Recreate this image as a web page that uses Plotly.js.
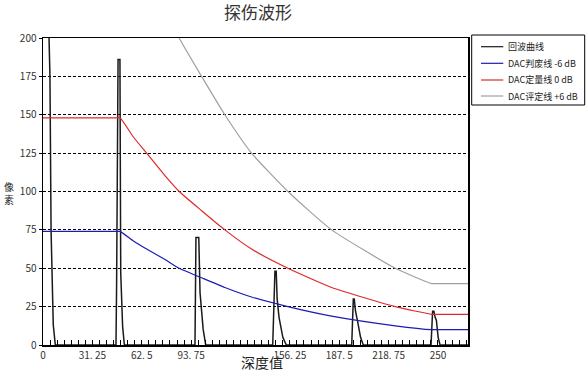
<!DOCTYPE html>
<html><head><meta charset="utf-8">
<script src="https://cdn.plot.ly/plotly-3.0.1.min.js"></script>
<style>html,body{margin:0;padding:0;background:#fff}#c{width:588px;height:373px}</style>
</head><body><div id="c"></div>
<script>
// Echo waveform (回波曲线)
const echoX = [0, 3.8, 4.4, 5.1, 6.5, 7.8,
  46.2, 46.6, 47.5, 48.7, 49.2, 50.4, 51.5,
  96.2, 96.8, 97.6, 98.6, 99.4, 101.4, 103.0,
  145.4, 146.8, 147.6, 148.2, 149.4, 151.8, 154.0,
  195.4, 196.4, 197.0, 197.8, 199.0, 201.0, 202.7,
  245.6, 246.6, 247.4, 248.2, 249.0, 250.1, 251.3, 269];
const echoY = [260, 200.8, 175, 75, 13, 0,
  0, 40, 186, 186, 47, 12, 0,
  0, 70, 70, 70, 34, 10, 0,
  0, 48, 48, 30, 18, 5, 0,
  0, 30, 30, 22, 16, 5, 0,
  0, 22, 22, 18, 16, 5, 0, 0];

// DAC curves
const dacX = [0, 46.0, 48.7, 57.2, 65.6, 78.3, 86.2, 100.4, 115.1, 132.0, 155.0, 182.7, 223.0, 246.0, 249.0, 269];
const dacRed = [148, 148, 148, 135.5, 125, 109, 100, 87.5, 75, 62.5, 50, 37.5, 25, 20, 20, 20];
const dacBlue = [74, 74, 74, 67.8, 62.5, 55, 50, 43.8, 37.5, 31.3, 25, 18.8, 12.5, 10, 10, 10];
const dacGray = [296, 296, 296, 271, 250, 218, 200, 175, 150, 125, 100, 75, 50, 40, 40, 40];

const names = ['回波曲线', 'DAC判废线 -6 dB', 'DAC定量线 0 dB', 'DAC评定线 +6 dB'];
const colors = ['#1a1a1a', '#1c1cb0', '#e02828', '#a0a0a0'];
const xTickVals = [0, 31.25, 62.5, 93.75, 156.25, 187.5, 218.75, 250];
const xTickText = ['0', '31. 25', '62. 5', '93. 75', '156. 25', '187. 5', '218. 75', '250'];
const yTickVals = [0, 25, 50, 75, 100, 125, 150, 175, 200];

const font = 'SimSun, "Noto Sans CJK SC", sans-serif';
const traces = [
  {x: echoX, y: echoY, name: names[0], mode: 'lines', line: {color: colors[0], width: 1.5}},
  {x: dacX, y: dacBlue, name: names[1], mode: 'lines', line: {color: colors[1], width: 1.2, shape: 'spline', smoothing: 0.5}},
  {x: dacX, y: dacRed, name: names[2], mode: 'lines', line: {color: colors[2], width: 1.2, shape: 'spline', smoothing: 0.5}},
  {x: dacX, y: dacGray, name: names[3], mode: 'lines', line: {color: colors[3], width: 1.2, shape: 'spline', smoothing: 0.5}}
];

// pixel -> paper helpers for the hand-built legend box
const L = 43, R = 468, T = 38, B = 345;
const PX = p => (p - L) / (R - L);
const PY = p => (B - p) / (B - T);

const shapes = [{type: 'rect', xref: 'paper', yref: 'paper', x0: PX(471.7), x1: PX(584.7), y0: PY(35), y1: PY(105),
  line: {color: '#000', width: 1}, fillcolor: '#fff', layer: 'above'}];
const annotations = [
  {text: '深度值', xref: 'paper', yref: 'paper', x: 0.515, y: PY(362), xanchor: 'center', yanchor: 'middle', showarrow: false,
    font: {family: font, size: 14, color: '#222'}},
  {text: '像<br>素', xref: 'paper', yref: 'paper', x: PX(9), y: PY(193), xanchor: 'center', yanchor: 'middle', showarrow: false,
    font: {family: font, size: 10, color: '#222'}}
];
const rowY = [46.7, 63.3, 80, 96];
names.forEach((n, i) => {
  shapes.push({type: 'line', xref: 'paper', yref: 'paper', x0: PX(481), x1: PX(503.3), y0: PY(rowY[i]), y1: PY(rowY[i]),
    line: {color: colors[i], width: 1.2}, layer: 'above'});
  annotations.push({text: n, xref: 'paper', yref: 'paper', x: PX(505.7), y: PY(rowY[i]), xanchor: 'left', yanchor: 'middle',
    showarrow: false, font: {family: font, size: 9, color: '#222'}});
});

const layout = {
  width: 588, height: 373,
  margin: {l: L, r: 588 - R, t: T, b: 373 - B},
  paper_bgcolor: '#fff', plot_bgcolor: '#fff',
  font: {family: font, size: 10, color: '#333'},
  title: {text: '探伤波形', font: {family: font, size: 17, color: '#333'}, x: 258 / 588, xanchor: 'center',
    y: 1 - 13 / 373, yanchor: 'middle'},
  showlegend: false,
  xaxis: {range: [0, 269], tickmode: 'array', tickvals: xTickVals, ticktext: xTickText,
    showgrid: false, zeroline: false, showline: true, linecolor: '#000', linewidth: 1.5, mirror: true,
    ticks: 'inside', ticklen: 5, tickcolor: '#000', tickfont: {size: 10, color: '#333'},
    minor: {tickmode: 'linear', tick0: 0, dtick: 31.25 / 7, ticks: 'inside', ticklen: 5, tickcolor: '#000', showgrid: false}},
  yaxis: {range: [0, 200], tickmode: 'array', tickvals: yTickVals,
    showgrid: true, gridcolor: '#000', gridwidth: 1, griddash: '3px,2px',
    zeroline: false, showline: true, linecolor: '#000', linewidth: 1.5, mirror: true,
    ticks: 'outside', ticklen: 3, tickcolor: '#000', tickfont: {size: 10, color: '#333'}},
  shapes: shapes,
  annotations: annotations
};
Plotly.newPlot('c', traces, layout, {staticPlot: true});
</script></body></html>
